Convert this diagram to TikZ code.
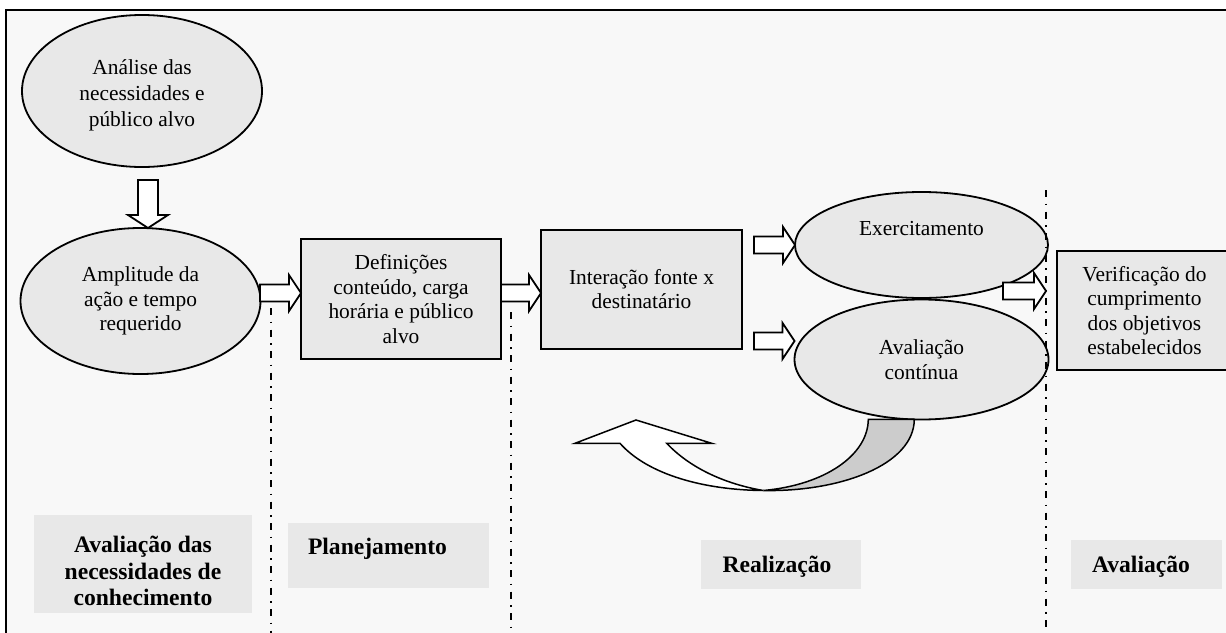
\documentclass[tikz,border=0pt]{standalone}
\usepackage{fontspec}
\setmainfont{Liberation Serif}
\usetikzlibrary{calc,shapes.geometric}
\definecolor{paper}{HTML}{F8F8F8}
\definecolor{shade}{HTML}{E8E8E8}
\definecolor{band}{HTML}{CCCCCC}
\begin{document}
\begin{tikzpicture}[x=1pt,y=-1pt,
  every node/.style={inner sep=0pt, outer sep=0pt},
  body/.style={font=\fontsize{21.4}{24.5}\selectfont, align=center},
  oval/.style={ellipse, draw, line width=1.8pt, fill=shade},
  card/.style={rectangle, draw, line width=2pt, fill=shade},
  tag/.style={rectangle, fill=shade},
  tagtext/.style={font=\fontsize{23.6}{26.7}\selectfont\bfseries, align=center},
  phase/.style={line width=1.8pt, dash pattern=on 7pt off 6.5pt on 1.5pt off 6.5pt},
  blockarrow/.style={draw, line width=1.8pt, fill=white, line join=miter,
    to path={let \p1=(\tikztostart), \p2=(\tikztotarget) in
      (\x1,\y1+8.5pt) -- (\x2-12pt,\y1+8.5pt) -- (\x2-12pt,\y1+18pt) -- (\x2,\y1)
      -- (\x2-12pt,\y1-18pt) -- (\x2-12pt,\y1-8.5pt) -- (\x1,\y1-8.5pt) -- cycle}},
  downarrow/.style={draw, line width=1.8pt, fill=white, line join=miter,
    to path={let \p1=(\tikztostart), \p2=(\tikztotarget) in
      (\x1-10pt,\y1) -- (\x1-10pt,\y2+13pt) -- (\x1-20pt,\y2+13pt) -- (\x1,\y2)
      -- (\x1+20pt,\y2+13pt) -- (\x1+10pt,\y2+13pt) -- (\x1+10pt,\y1) -- cycle}}
]
\useasboundingbox (0,0) rectangle (1226,632);
\clip (0,0) rectangle (1226,632);

% page and frame
\fill[white] (0,0) rectangle (1226,632);
\fill[paper] (6,10) rectangle (1240,640);
\draw[line width=2pt] (6,640) -- (6,10) -- (1240,10);

% stage 1: needs
\node[oval, minimum width=240, minimum height=152] (need) at (142,91) {};
\node[body, font=\fontsize{21.4}{26}\selectfont] (needtext) at (142,95)
  {Análise das\\necessidades e\\público alvo};
\node[oval, minimum width=240, minimum height=146, body] (scope) at (140.5,301)
  {Amplitude da\\ação e tempo\\requerido};

% stage 2 and 3 boxes
\node[card, minimum width=200, minimum height=120, body] (defs) at (401,299)
  {Definições\\conteúdo, carga\\horária e público\\alvo};
\node[card, minimum width=201, minimum height=119, body] (inter) at (641.5,289)
  {Interação fonte x\\destinatário};

% practice and continuous assessment
\node[oval, minimum width=253, minimum height=106] (exer) at (921.5,245) {};
\node[body] (exertext) at (921.5,229) {Exercitamento};
\node[oval, minimum width=254, minimum height=120, body] (aval) at (921.5,359.5)
  {Avaliação\\contínua};

% final check
\node[card, minimum width=175, minimum height=119, body] (verif) at (1144.5,310.5)
  {Verificação do\\cumprimento\\dos objetivos\\estabelecidos};

% arrow end points
\coordinate (downstart) at (148,180);
\coordinate (astart) at (260,293);
\coordinate (bstart) at (501,293);
\coordinate (cstart) at (754,245);
\coordinate (dstart) at (754,341);
\coordinate (estart) at (1003,291);
\coordinate (etip) at (1046,291);

\draw[downarrow] (downstart) to (need.south |- scope.north);
\draw[blockarrow] (astart) to (defs.west);
\draw[blockarrow] (bstart) to (inter.west);
\draw[blockarrow] (cstart) to (exer.west);
\draw[blockarrow] (dstart) to (aval.west);
\draw[blockarrow] (estart) to (etip);

% feedback arrow under the assessment oval
\draw[line width=1.5pt, fill=band, line join=miter]
  (763.3,490.5) .. controls (840,492) and (914,465) .. (914.3,419.3)
  -- (868.3,419.3) .. controls (868,455) and (825,485) .. (763.3,490.5) -- cycle;
\draw[line width=1.5pt, fill=white, line join=miter]
  (763.3,490.5) .. controls (705,490) and (648,475) .. (620,443.3)
  -- (575,443.3) -- (636,420) -- (711.7,443.3) -- (666.7,443.3)
  .. controls (690,468) and (725,484) .. (763.3,490.5) -- cycle;

% phase dividers
\draw[phase] (271,308) -- (271,640);
\draw[phase] (511,312) -- (511,640);
\draw[phase] (1046,190) -- (1046,640);

% phase labels
\node[tag, minimum width=218, minimum height=98] (tneeds) at (143,564) {};
\node[tagtext] (tneedstext) at (143,571)
  {Avaliação das\\necessidades de\\conhecimento};
\node[tag, minimum width=201, minimum height=65] (tplan) at (388.5,555.5) {};
\node[tagtext, anchor=west] (tplantext) at (308,549) {Planejamento};
\node[tag, minimum width=160, minimum height=49] (treal) at (781,564.5) {};
\node[tagtext] (trealtext) at (777,567) {Realização};
\node[tag, minimum width=151, minimum height=49] (teval) at (1146.5,564.5) {};
\node[tagtext] (tevaltext) at (1141,567) {Avaliação};
\end{tikzpicture}
\end{document}
